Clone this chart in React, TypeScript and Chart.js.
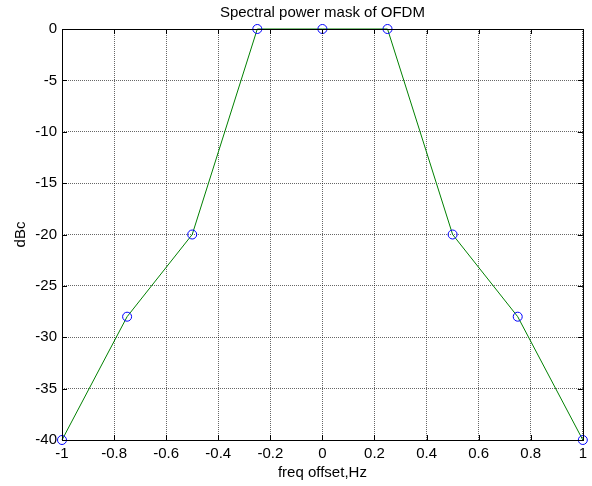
import React, { useEffect, useRef } from "react";
import { Chart, registerables } from "chart.js";

Chart.register(...registerables);

const freqOffsets = [-1, -0.75, -0.5, -0.25, 0, 0.25, 0.5, 0.75, 1];
const maskDbc = [-40, -28, -20, 0, 0, 0, -20, -28, -40];
const xTickValues = [-1, -0.8, -0.6, -0.4, -0.2, 0, 0.2, 0.4, 0.6, 0.8, 1];
const yTickValues = [-40, -35, -30, -25, -20, -15, -10, -5, 0];
const titleText = "Spectral power mask of OFDM";
const xLabel = "freq offset,Hz";
const yLabel = "dBc";

const FONT = "'Liberation Sans', Arial, sans-serif";

const boxPlugin = {
  id: "matlabBox",
  afterDraw(chart: any) {
    const { ctx, chartArea } = chart;
    const { left, right, top, bottom } = chartArea;
    const xs = chart.scales.x;
    const ys = chart.scales.y;
    ctx.save();
    ctx.strokeStyle = "#000";
    ctx.lineWidth = 1;
    ctx.setLineDash([]);
    ctx.beginPath();
    const tl = 5;
    xTickValues.forEach((v) => {
      const px = Math.round(xs.getPixelForValue(v)) + 0.5;
      ctx.moveTo(px, bottom);
      ctx.lineTo(px, bottom - tl);
      ctx.moveTo(px, top);
      ctx.lineTo(px, top + tl);
    });
    yTickValues.forEach((v) => {
      const py = Math.round(ys.getPixelForValue(v)) + 0.5;
      ctx.moveTo(left, py);
      ctx.lineTo(left + tl, py);
      ctx.moveTo(right, py);
      ctx.lineTo(right - tl, py);
    });
    ctx.stroke();
    ctx.strokeRect(Math.round(left) + 0.5, Math.round(top) + 0.5, Math.round(right - left), Math.round(bottom - top));
    ctx.restore();
  },
};

const lineOnTop = {
  id: "lineOnTop",
};

export default function App() {
  const ref = useRef<HTMLCanvasElement | null>(null);
  useEffect(() => {
    if (!ref.current) return;
    const chart = new Chart(ref.current, {
      type: "line",
      data: {
        datasets: [
          {
            data: freqOffsets.map((x, i) => ({ x, y: maskDbc[i] })),
            borderColor: "#008000",
            borderWidth: 1,
            pointStyle: "circle",
            pointRadius: 4.5,
            pointBorderColor: "#0000ff",
            pointBackgroundColor: "rgba(0,0,0,0)",
            pointBorderWidth: 1,
            tension: 0,
            clip: false,
            fill: false,
          } as any,
        ],
      },
      options: {
        responsive: false,
        animation: false,
        devicePixelRatio: 1,
        layout: { padding: { left: 0, right: 8, top: 0, bottom: 0 } },
        plugins: {
          legend: { display: false },
          tooltip: { enabled: false },
          title: {
            display: true,
            text: titleText,
            color: "#000",
            fullSize: false,
            font: { family: FONT, size: 15, weight: "normal" },
            padding: { top: 4, bottom: 7 },
          },
        },
        scales: {
          x: {
            type: "linear",
            min: -1,
            max: 1,
            afterBuildTicks: (scale: any) => {
              scale.ticks = xTickValues.map((value) => ({ value }));
            },
            afterFit: (scale: any) => {
              scale.height = 46;
            },
            ticks: {
              color: "#000",
              font: { family: FONT, size: 15 },
              padding: 5,
              maxRotation: 0,
              autoSkip: false,
              callback: (v: any) => String(Math.round(Number(v) * 10) / 10 + 0),
            },
            grid: {
              color: "rgba(0,0,0,0.6)",
              drawTicks: false,
              tickBorderDash: [1, 1],
            },
            border: { display: false, dash: [1, 1] },
            title: {
              display: true,
              text: xLabel,
              color: "#000",
              font: { family: FONT, size: 15 },
              padding: { top: 0, bottom: 4 },
            },
          },
          y: {
            type: "linear",
            min: -40,
            max: 0,
            afterBuildTicks: (scale: any) => {
              scale.ticks = yTickValues.map((value) => ({ value }));
            },
            afterFit: (scale: any) => {
              scale.width = 62;
            },
            ticks: {
              color: "#000",
              font: { family: FONT, size: 15 },
              padding: 5,
              autoSkip: false,
              callback: (v: any) => String(v),
            },
            grid: {
              color: "rgba(0,0,0,0.6)",
              drawTicks: false,
            },
            border: { display: false, dash: [1, 1] },
            title: {
              display: true,
              text: yLabel,
              color: "#000",
              font: { family: FONT, size: 15 },
              padding: { top: 12, bottom: 0 },
            },
          },
        },
      } as any,
      plugins: [boxPlugin, lineOnTop],
    });
    return () => chart.destroy();
  }, []);
  return (
    <div style={{ position: "absolute", left: 0, top: 0, width: 592, height: 486, background: "#fff" }}>
      <canvas ref={ref} width={592} height={486} />
    </div>
  );
}
